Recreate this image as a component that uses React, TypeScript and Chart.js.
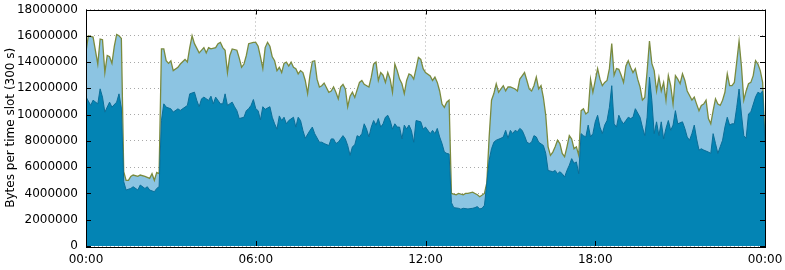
import React, { useEffect, useRef } from 'react';
import { Chart, registerables } from 'chart.js';

Chart.register(...registerables);

// x positions are 5-minute time slots (0 .. 288 = 24 h)
const totalSlots = [
  0, 1, 3, 5, 6, 7, 8, 9, 10, 11, 12, 13, 14, 15, 16, 17, 18, 19, 20, 22, 23, 25, 27, 28, 29, 30, 31, 32, 33, 34, 35, 36, 37, 39, 40, 42, 43, 44, 45, 46, 48,
  50, 51, 52, 53, 55, 56, 57, 58, 59, 60, 61, 62, 64, 65, 66, 67, 68, 69, 71, 72, 73, 74, 75, 76, 77, 78, 79, 80, 81, 82, 83, 84, 85, 86, 87, 88, 89, 90, 91, 92, 93, 94, 95, 96, 97, 98, 99,
  100, 101, 103, 104, 105, 106, 107, 108, 109, 110, 111, 112, 113, 114, 116, 117, 118, 120, 121, 122, 123, 124, 125, 126, 127, 128, 129, 130, 131, 132, 133, 134, 135, 136, 137, 138, 139, 140, 141, 142, 143, 144, 146, 147, 148, 149,
  150, 151, 152, 153, 154, 155, 157, 158, 160, 161, 162, 164, 165, 166, 167, 169, 170, 171, 172, 173, 174, 175, 176, 177, 178, 179, 180, 182, 183, 184, 185, 186, 187, 188, 189, 190, 191, 192, 193, 194, 195, 196, 197, 198, 199,
  200, 201, 202, 203, 204, 205, 206, 207, 208, 209, 210, 211, 212, 213, 214, 215, 216, 217, 218, 219, 220, 221, 222, 223, 224, 225, 226, 227, 228, 229, 230, 231, 232, 233, 234, 235, 236, 237, 238, 239, 240, 241, 242, 243, 244, 245, 246, 247, 248, 249,
  250, 251, 252, 253, 254, 255, 256, 257, 258, 259, 260, 261, 262, 263, 264, 265, 266, 267, 268, 269, 270, 271, 272, 273, 274, 275, 276, 277, 278, 279, 280, 281, 282, 283, 284, 285, 286, 287, 288,
];
// total bytes (both series stacked), in millions
const totalMillions = [
  14.8, 16.0, 15.9, 13.85, 15.75, 15.7, 13.2, 14.5, 14.4, 13.9, 15.2, 16.1, 16.0, 15.8, 5.65, 5.0, 5.0, 5.3, 5.4, 5.3, 5.4, 5.3, 5.15, 5.5, 5.0, 5.6, 5.5, 15.0, 15.0, 14.1, 13.9, 14.1, 13.35, 13.6, 13.85, 14.2, 14.0, 15.1, 16.0, 15.4, 14.7,
  15.1, 14.7, 15.1, 15.0, 15.1, 15.4, 15.5, 15.1, 14.9, 13.2, 14.5, 15.0, 14.9, 14.3, 13.6, 13.85, 14.5, 15.4, 15.5, 15.5, 15.2, 14.4, 13.5, 15.1, 15.5, 15.2, 14.4, 14.1, 13.35, 13.6, 13.2, 13.9, 14.0, 13.7, 14.0, 13.6, 13.5, 13.1, 13.35, 13.2, 12.6, 11.6, 13.0, 14.05, 14.1, 12.7, 12.1,
  12.2, 12.4, 11.7, 11.8, 12.1, 11.7, 11.2, 12.1, 12.3, 11.95, 10.6, 11.4, 11.7, 11.3, 12.45, 12.6, 12.3, 12.1, 12.85, 13.85, 14.0, 12.6, 13.2, 13.0, 12.45, 13.2, 12.7, 11.7, 13.85, 13.35, 12.7, 12.35, 11.6, 12.6, 13.1, 13.0, 12.7, 13.5, 14.35, 14.2, 13.5, 13.2, 12.95, 12.6, 12.85, 12.45,
  11.8, 10.8, 10.55, 10.95, 11.1, 4.0, 3.9, 4.0, 3.9, 4.0, 4.0, 4.1, 4.0, 3.9, 3.75, 4.0, 4.8, 8.3, 11.1, 11.6, 12.35, 11.7, 11.95, 12.2, 11.8, 12.1, 12.1, 11.95, 11.8, 12.7, 12.95, 13.2, 12.6, 11.95, 11.8, 12.2, 12.85, 11.95, 12.2, 11.3, 9.95, 7.55, 6.9, 7.15, 7.55,
  8.05, 7.8, 7.05, 6.8, 7.55, 8.4, 8.15, 7.4, 7.55, 6.9, 10.3, 10.45, 10.05, 10.2, 12.7, 11.7, 12.6, 13.5, 12.7, 12.2, 12.45, 12.6, 13.5, 15.4, 13.0, 13.5, 13.45, 13.0, 12.45, 13.7, 14.1, 13.6, 13.2, 13.5, 12.7, 12.1, 11.1, 11.3, 13.3, 15.6, 13.9, 13.35, 11.8, 12.85, 11.8, 12.45, 11.1, 12.97, 12.2, 10.8,
  12.97, 12.7, 12.35, 13.1, 12.6, 11.8, 11.45, 11.1, 11.33, 10.8, 10.3, 10.7, 10.8, 11.1, 9.7, 9.3, 10.3, 11.2, 10.8, 10.7, 11.1, 11.7, 13.1, 12.2, 12.2, 12.45, 14.0, 15.6, 13.7, 11.1, 11.8, 12.35, 12.45, 12.97, 14.1, 13.85, 13.35, 12.45, 7.9,
];

const innerSlots = [
  0, 2, 3, 5, 6, 7, 8, 10, 11, 13, 14, 15, 16, 17, 19, 20, 22, 23, 25, 26, 27, 29, 30, 31, 32, 33, 34, 36, 37, 39, 40, 42, 43, 44, 46, 47, 48, 49,
  50, 52, 53, 54, 55, 57, 58, 59, 60, 62, 63, 64, 65, 67, 68, 69, 70, 71, 72, 73, 74, 75, 76, 78, 79, 80, 81, 82, 83, 84, 85, 86, 88, 89, 90, 91, 92, 93, 95, 96, 97, 99,
  100, 101, 103, 104, 105, 106, 107, 109, 110, 111, 112, 113, 114, 115, 116, 117, 118, 119, 120, 121, 122, 123, 124, 125, 126, 127, 128, 129, 130, 131, 132, 133, 134, 135, 136, 137, 138, 139, 140, 142, 143, 144, 146, 147, 148, 149,
  150, 151, 152, 153, 154, 155, 156, 158, 159, 160, 162, 164, 165, 166, 167, 168, 169, 170, 171, 172, 173, 174, 176, 177, 178, 179, 180, 181, 182, 183, 184, 185, 186, 187, 188, 189, 190, 191, 192, 194, 195, 196, 198, 199,
  200, 201, 202, 203, 204, 205, 206, 207, 208, 209, 210, 211, 212, 213, 214, 215, 216, 217, 218, 219, 220, 221, 222, 223, 224, 225, 226, 227, 228, 229, 230, 231, 232, 233, 235, 236, 237, 238, 239, 240, 241, 242, 243, 244, 245, 246, 247, 248, 249,
  250, 251, 253, 254, 255, 256, 257, 258, 259, 260, 261, 262, 264, 265, 266, 267, 268, 269, 270, 271, 272, 273, 274, 275, 276, 277, 278, 279, 280, 281, 282, 284, 285, 286, 287, 288,
];
// lower (dark) series bytes, in millions
const innerMillions = [
  11.35, 10.7, 11.1, 10.82, 11.96, 11.33, 10.19, 10.95, 10.57, 10.95, 11.58, 10.5, 4.9, 4.26, 4.38, 4.51, 4.26, 4.64, 4.38, 4.51, 4.26, 4.13, 4.38, 4.51, 9.56, 10.82, 10.57, 10.44, 10.19, 10.44, 10.32, 10.57, 10.7, 11.58, 11.71, 11.08, 10.6, 11.2,
  11.33, 11.08, 11.4, 10.82, 11.33, 10.82, 10.82, 11.58, 10.7, 10.95, 10.6, 10.3, 9.7, 9.8, 10.3, 10.45, 10.7, 11.15, 10.45, 10.3, 9.6, 10.6, 10.4, 10.6, 9.8, 9.3, 8.9, 9.9, 9.55, 9.8, 9.3, 9.55, 9.8, 9.05, 9.8, 9.55, 8.8, 8.2, 8.8, 9.05, 8.55, 7.9,
  7.9, 7.8, 7.65, 8.15, 8.15, 7.8, 7.9, 8.4, 8.15, 7.65, 6.9, 7.55, 7.7, 8.4, 8.3, 8.55, 9.3, 8.9, 8.3, 9.05, 9.55, 9.2, 9.7, 9.05, 9.3, 9.8, 9.95, 9.55, 8.9, 9.3, 9.05, 9.05, 8.15, 9.2, 8.9, 9.2, 8.8, 7.9, 9.55, 9.45, 8.9, 9.05, 8.55, 8.8, 8.55, 8.95,
  8.3, 7.8, 7.15, 7.05, 7.0, 3.3, 2.92, 2.87, 2.8, 2.87, 2.82, 2.87, 2.92, 3.0, 2.82, 2.87, 3.1, 4.76, 6.53, 7.4, 7.9, 8.05, 8.2, 8.3, 8.8, 8.2, 8.8, 8.55, 8.8, 8.7, 8.95, 8.8, 8.4, 7.9, 7.8, 7.9, 8.4, 8.3, 7.9, 7.65, 7.05, 5.75, 5.65, 5.75,
  5.5, 5.65, 5.5, 5.25, 5.75, 6.15, 6.65, 6.3, 6.4, 5.5, 8.55, 8.4, 8.3, 9.2, 8.3, 8.55, 9.45, 9.95, 9.05, 8.55, 9.2, 9.55, 10.55, 12.2, 9.3, 9.05, 9.95, 9.55, 9.3, 9.55, 9.8, 9.7, 9.8, 10.45, 9.8, 9.05, 8.4, 9.8, 12.85, 11.1, 8.55, 9.45, 8.4, 9.45, 8.15, 8.95, 9.55, 8.8, 9.2,
  10.3, 9.3, 9.45, 8.95, 8.3, 8.05, 8.55, 9.2, 8.15, 7.3, 7.4, 7.3, 7.15, 7.05, 8.55, 7.8, 7.05, 7.55, 8.05, 9.05, 9.8, 9.2, 9.3, 9.3, 10.55, 11.95, 10.05, 8.4, 8.2, 10.05, 10.2, 11.35, 11.7, 11.6, 11.8, 7.7,
];

const xTickLabels = ['00:00', '06:00', '12:00', '18:00', '00:00'];
const yAxisTitle = 'Bytes per time slot (300 s)';

const FONT = 'DejaVu Sans';

const frameAndTicks = {
  id: 'frameAndTicks',
  afterDatasetsDraw(chart: any) {
    const { ctx, chartArea: a, scales } = chart;
    const len = 5;
    ctx.save();
    ctx.strokeStyle = '#000';
    ctx.lineWidth = 1;
    ctx.beginPath();
    for (const t of scales.y.ticks) {
      const y = Math.round(scales.y.getPixelForValue(t.value)) + 0.5;
      ctx.moveTo(a.left, y);
      ctx.lineTo(a.left + len, y);
      ctx.moveTo(a.right, y);
      ctx.lineTo(a.right - len, y);
    }
    for (const t of scales.x.ticks) {
      const x = Math.round(scales.x.getPixelForValue(t.value)) + 0.5;
      ctx.moveTo(x, a.bottom);
      ctx.lineTo(x, a.bottom - len);
      ctx.moveTo(x, a.top);
      ctx.lineTo(x, a.top + len);
    }
    ctx.stroke();
    ctx.strokeRect(Math.round(a.left) + 0.5, Math.round(a.top) + 0.5, Math.round(a.right - a.left), Math.round(a.bottom - a.top));
    ctx.restore();
  },
};

export default function App() {
  const ref = useRef<HTMLCanvasElement>(null);

  useEffect(() => {
    document.body.style.margin = '0';
    const canvas = ref.current!;
    const toPoints = (xs: number[], ys: number[]) => xs.map((x, i) => ({ x, y: ys[i] * 1e6 }));

    const chart = new Chart(canvas, {
      type: 'line',
      data: {
        datasets: [
          {
            label: 'lower',
            data: toPoints(innerSlots, innerMillions),
            fill: 'origin',
            backgroundColor: '#0384b4',
            borderColor: '#0b6e98',
            borderWidth: 1,
            pointRadius: 0,
            tension: 0,
          },
          {
            label: 'total',
            data: toPoints(totalSlots, totalMillions),
            fill: 'origin',
            backgroundColor: '#8cc4e2',
            borderColor: '#7a8a3e',
            borderWidth: 1.3,
            pointRadius: 0,
            tension: 0,
          },
        ],
      },
      options: {
        responsive: false,
        animation: false,
        devicePixelRatio: 1,
        layout: { padding: { top: 9.5, right: 20, left: 0, bottom: 0 } },
        plugins: { legend: { display: false }, tooltip: { enabled: false } },
        scales: {
          x: {
            type: 'linear',
            min: 0,
            max: 288,
            afterFit: (s: any) => { s.height = 24; },
            ticks: {
              stepSize: 72,
              autoSkip: false,
              maxRotation: 0,
              padding: 0,
              color: '#000',
              font: { family: FONT, size: 12 },
              callback: (v: any) => xTickLabels[Math.round(Number(v) / 72)],
            },
            grid: { color: '#a8a8a8', drawTicks: true, tickLength: 7, tickColor: 'rgba(0,0,0,0)', lineWidth: 1 },
            border: { display: false, dash: [1, 3] },
          },
          y: {
            min: 0,
            max: 18000000,
            afterFit: (s: any) => { s.width = 86; },
            ticks: {
              stepSize: 2000000,
              autoSkip: false,
              padding: 0,
              color: '#000',
              font: { family: FONT, size: 12 },
              callback: (v: any) => String(v),
            },
            grid: { color: '#a8a8a8', drawTicks: true, tickLength: 8, tickColor: 'rgba(0,0,0,0)', lineWidth: 1 },
            border: { display: false, dash: [1, 3] },
            title: {
              display: true,
              text: yAxisTitle,
              color: '#000',
              font: { family: FONT, size: 12 },
              padding: { top: 4, bottom: 0 },
            },
          },
        },
      },
      plugins: [frameAndTicks],
    });
    return () => chart.destroy();
  }, []);

  return <canvas ref={ref} width={785} height={270} style={{ display: 'block' }} />;
}
